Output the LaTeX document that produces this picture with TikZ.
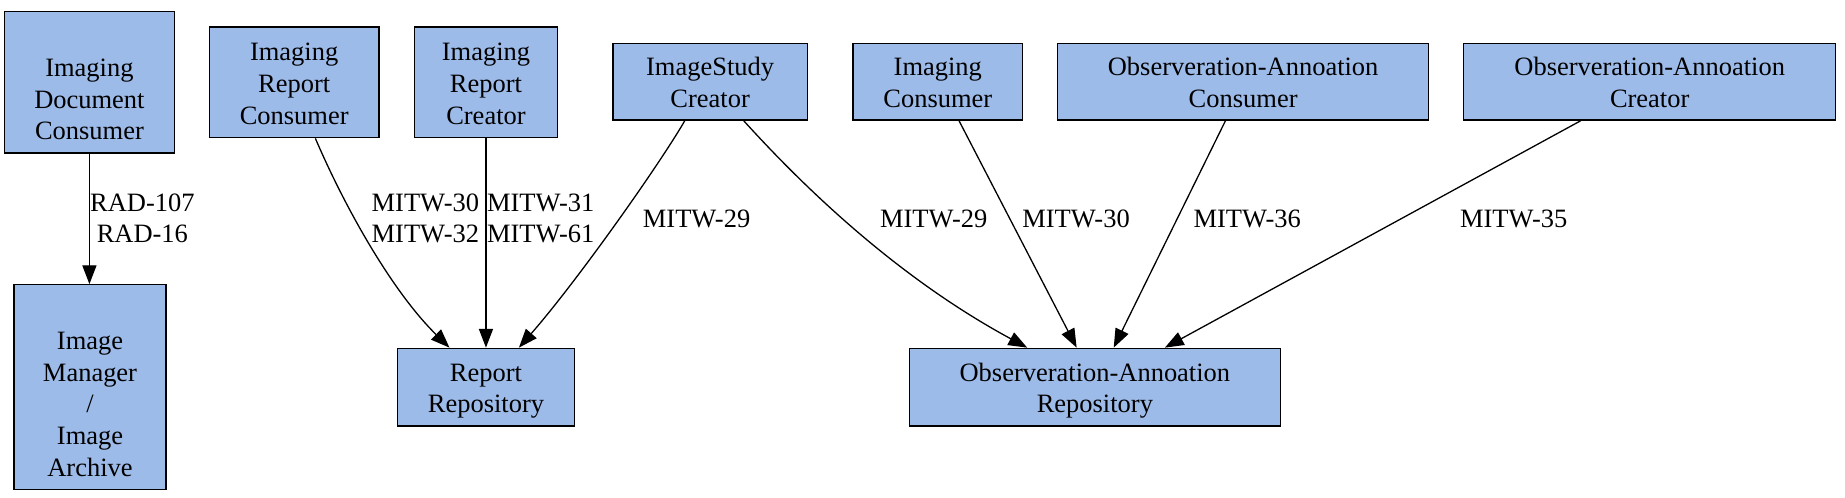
\documentclass[tikz,border=0pt]{standalone}
\usepackage{fontspec}
\setmainfont{Liberation Serif}
\newfontfamily\gvfont{Liberation Serif}
\usetikzlibrary{arrows.meta}
\definecolor{boxblue}{RGB}{157,187,233}
\newcommand{\gvl}[1]{\rule[-5.1pt]{0pt}{27pt}#1}
\begin{document}
\begin{tikzpicture}[x=1pt,y=-1pt,
  txt/.style={font=\gvfont\fontsize{22.5}{27}\selectfont, align=center, inner sep=0pt},
  box/.style={txt, draw=black, line width=1.1pt, fill=boxblue},
  conn/.style={line width=1.1pt, -{Triangle[length=16pt,width=12pt]}},
  lbl/.style={txt}
]
\useasboundingbox (0,0) rectangle (1568,423);
% top row
\node[box, minimum width=144pt, minimum height=120pt] (idc) at (76,70) {\gvl{}\\\gvl{Imaging}\\\gvl{Document}\\\gvl{Consumer}};
\node[box, minimum width=144pt, minimum height=94pt] (irc) at (250,70) {\gvl{Imaging}\\\gvl{Report}\\\gvl{Consumer}};
\node[box, minimum width=121pt, minimum height=94pt] (ircr) at (413,70) {\gvl{Imaging}\\\gvl{Report}\\\gvl{Creator}};
\node[box, minimum width=165pt, minimum height=65pt] (isc) at (603.5,69.5) {\gvl{ImageStudy}\\\gvl{Creator}};
\node[box, minimum width=144pt, minimum height=65pt] (ic) at (797,69.5) {\gvl{Imaging}\\\gvl{Consumer}};
\node[box, minimum width=315pt, minimum height=65pt] (oac) at (1056.5,69.5) {\gvl{Observeration-Annoation}\\\gvl{Consumer}};
\node[box, minimum width=316pt, minimum height=65pt] (oacr) at (1402,69.5) {\gvl{Observeration-Annoation}\\\gvl{Creator}};
% bottom row
\node[box, minimum width=129pt, minimum height=174pt] (ima) at (76.5,329) {\gvl{}\\\gvl{Image}\\\gvl{Manager}\\\gvl{/}\\\gvl{Image}\\\gvl{Archive}};
\node[box, minimum width=150pt, minimum height=66pt] (rr) at (413,329) {\gvl{Report}\\\gvl{Repository}};
\node[box, minimum width=315pt, minimum height=66pt] (oar) at (930.5,329) {\gvl{Observeration-Annoation}\\\gvl{Repository}};
% connectors
\draw[conn] (idc.south) -- (idc.south |- ima.north);
\draw[conn] ([xshift=18pt]irc.south) .. controls +(27,63) and +(-47,-46) .. ([xshift=-31pt]rr.north);
\draw[conn] (ircr.south) -- (ircr.south |- rr.north);
\draw[conn] ([xshift=-21.5pt]isc.south) .. controls +(-22,38) and +(49,-56) .. ([xshift=28pt]rr.north);
\draw[conn] ([xshift=28.5pt]isc.south) .. controls +(48,53) and +(-113,-61) .. ([xshift=-57.5pt]oar.north);
\draw[conn] ([xshift=18pt]ic.south) -- ([xshift=-15.5pt]oar.north);
\draw[conn] ([xshift=-15pt]oac.south) -- ([xshift=16pt]oar.north);
\draw[conn] ([xshift=-58.5pt]oacr.south) -- ([xshift=59.5pt]oar.north);
% labels
\node[lbl] (l1) at (121,184.5) {\gvl{RAD-107}\\\gvl{RAD-16}};
\node[lbl] (l2) at (361.5,184.5) {\gvl{MITW-30}\\\gvl{MITW-32}};
\node[lbl] (l3) at (459.5,184.5) {\gvl{MITW-31}\\\gvl{MITW-61}};
\node[lbl] (l4) at (592,185) {\gvl{MITW-29}};
\node[lbl] (l5) at (793.5,185) {\gvl{MITW-29}};
\node[lbl] (l6) at (914.5,185) {\gvl{MITW-30}};
\node[lbl] (l7) at (1060,185) {\gvl{MITW-36}};
\node[lbl] (l8) at (1286.5,185) {\gvl{MITW-35}};
\end{tikzpicture}
\end{document}
